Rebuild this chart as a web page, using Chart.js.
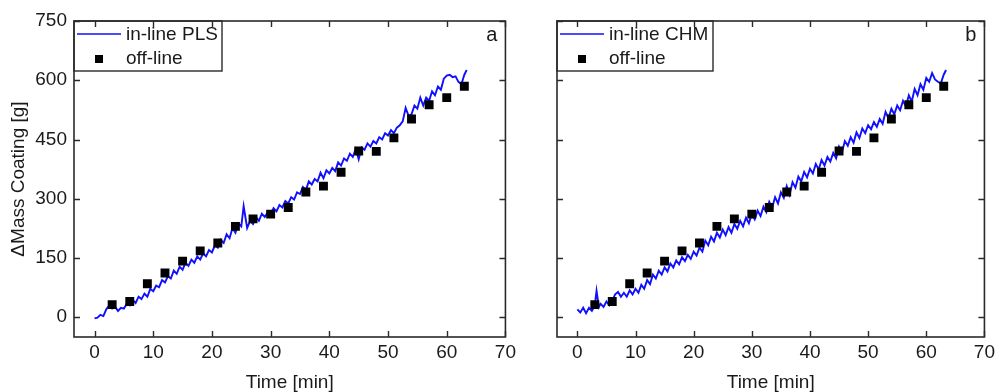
<!DOCTYPE html>
<html>
<head>
<meta charset="utf-8">
<script src="https://cdn.jsdelivr.net/npm/chart.js@4.4.1/dist/chart.umd.min.js"></script>
<style>
  body { margin: 0; background: #fff; }
  .panel { position: absolute; top: 0; }
</style>
</head>
<body>
<div class="panel" style="left:0"><canvas id="chartA" width="520" height="392"></canvas></div>
<div class="panel" style="left:520px"><canvas id="chartB" width="479" height="392"></canvas></div>
<script>
// off-line reference values (same for both panels)
const offTime = [3, 6, 9, 12, 15, 18, 21, 24, 27, 30, 33, 36, 39, 42, 45, 48, 51, 54, 57, 60, 63];
const offMass = [32, 40, 85, 112, 142, 168, 188, 230, 249, 261, 278, 317, 332, 367, 421, 420, 454, 502, 538, 556, 585];

// in-line PLS prediction (panel a)
const plsTime = [0, 0.5, 1, 1.5, 2, 2.5, 3, 3.5, 4, 4.5, 5, 5.5, 6, 6.5, 7, 7.5, 8, 8.5, 9, 9.5,
  10, 10.5, 11, 11.5, 12, 12.5, 13, 13.5, 14, 14.5, 15, 15.5, 16, 16.5, 17, 17.5, 18, 18.5, 19, 19.5,
  20, 20.5, 21, 21.5, 22, 22.5, 23, 23.5, 24, 24.5, 25, 25.4, 26, 26.5, 27, 27.5, 28, 28.5, 29, 29.5,
  30, 30.5, 31, 31.5, 32, 32.5, 33, 33.5, 34, 34.5, 35, 35.5, 36, 36.5, 37, 37.5, 38, 38.5, 39, 39.5,
  40, 40.5, 41, 41.5, 42, 42.5, 43, 43.5, 44, 44.5, 45, 45.5, 46, 46.5, 47, 47.5, 48, 48.5, 49, 49.5,
  50, 50.5, 51, 51.5, 52, 52.5, 53, 53.5, 54, 54.5, 55, 55.5, 56, 56.5, 57, 57.5, 58, 58.5, 59, 59.5,
  60, 60.5, 61, 61.5, 62, 62.5, 63, 63.4];
const plsMass = [-3, -1, 6, 3, 20, 30, 22, 26, 16, 24, 22, 34, 30, 44, 36, 52, 46, 60, 52, 72,
  66, 80, 76, 94, 88, 104, 98, 118, 110, 128, 120, 138, 130, 146, 138, 154, 146, 162, 154, 170,
  164, 182, 176, 196, 188, 210, 200, 226, 214, 238, 230, 281, 226, 244, 236, 254, 244, 262, 254, 266,
  262, 276, 268, 284, 278, 294, 288, 304, 298, 316, 312, 330, 322, 344, 336, 350, 344, 366, 352, 372,
  364, 378, 370, 392, 384, 402, 396, 414, 406, 426, 400, 430, 424, 440, 432, 446, 440, 456, 450, 466,
  460, 474, 466, 480, 486, 496, 530, 510, 514, 536, 528, 556, 536, 556, 548, 572, 562, 584, 576, 604,
  612, 614, 608, 610, 596, 590, 614, 626];

// in-line CHM prediction (panel b)
const chmTime = [0, 0.5, 1, 1.5, 2, 2.5, 3, 3.3, 3.7, 4, 4.5, 5, 5.5, 6, 6.5, 7, 7.5, 8, 8.5, 9, 9.5,
  10, 10.5, 11, 11.5, 12, 12.5, 13, 13.5, 14, 14.5, 15, 15.5, 16, 16.5, 17, 17.5, 18, 18.5, 19, 19.5,
  20, 20.5, 21, 21.5, 22, 22.5, 23, 23.5, 24, 24.5, 25, 25.5, 26, 26.5, 27, 27.5, 28, 28.5, 29, 29.5,
  30, 30.5, 31, 31.5, 32, 32.5, 33, 33.5, 34, 34.5, 35, 35.5, 36, 36.5, 37, 37.5, 38, 38.5, 39, 39.5,
  40, 40.5, 41, 41.5, 42, 42.5, 43, 43.5, 44, 44.5, 45, 45.5, 46, 46.5, 47, 47.5, 48, 48.5, 49, 49.5,
  50, 50.5, 51, 51.5, 52, 52.5, 53, 53.5, 54, 54.5, 55, 55.5, 56, 56.5, 57, 57.5, 58, 58.5, 59, 59.5,
  60, 60.5, 61, 61.5, 62, 62.5, 63, 63.4];
const chmMass = [20, 12, 24, 10, 24, 16, 30, 67, 26, 34, 26, 40, 30, 42, 58, 64, 52, 62, 52, 68, 58,
  72, 62, 82, 72, 94, 84, 108, 98, 118, 108, 126, 116, 136, 126, 144, 134, 152, 142, 158, 148,
  166, 156, 176, 166, 194, 182, 204, 192, 214, 202, 222, 208, 228, 214, 236, 224, 244, 230, 252, 238,
  262, 248, 270, 256, 280, 266, 292, 278, 304, 288, 316, 302, 332, 310, 342, 328, 356, 344, 368, 354,
  376, 364, 388, 374, 398, 384, 406, 394, 416, 402, 432, 418, 446, 434, 456, 442, 468, 454, 478, 466,
  486, 476, 494, 482, 502, 490, 520, 504, 528, 514, 536, 524, 548, 534, 562, 546, 578, 562, 590, 576,
  606, 596, 618, 602, 596, 592, 614, 626];

const xTicks = [0, 10, 20, 30, 40, 50, 60, 70];
const yTicks = [0, 150, 300, 450, 600, 750];

const FONT = "'Liberation Sans', Arial, sans-serif";
const FSIZE = 19;
const INK = '#1a1a1a';
const BLUE = '#1010ff';

function toPoints(xs, ys) {
  return xs.map((x, i) => ({ x: x, y: ys[i] }));
}

// frame, inward ticks on all four sides, legend box and panel letter
const framePlugin = {
  id: 'frame',
  afterDraw(chart, args, opts) {
    const { ctx, chartArea: a, scales } = chart;
    const x = scales.x, y = scales.y;
    ctx.save();
    ctx.strokeStyle = '#2a2a2a';
    ctx.lineWidth = 1.6;
    ctx.strokeRect(a.left, a.top, a.right - a.left, a.bottom - a.top);
    ctx.lineWidth = 1.4;
    ctx.beginPath();
    xTicks.forEach(v => {
      const px = Math.round(x.getPixelForValue(v)) + 0.5;
      ctx.moveTo(px, a.bottom); ctx.lineTo(px, a.bottom - 6);
      ctx.moveTo(px, a.top); ctx.lineTo(px, a.top + 6);
    });
    yTicks.forEach(v => {
      const py = Math.round(y.getPixelForValue(v)) + 0.5;
      ctx.moveTo(a.left, py); ctx.lineTo(a.left + 6, py);
      ctx.moveTo(a.right, py); ctx.lineTo(a.right - 6, py);
    });
    ctx.stroke();

    // legend
    const L = a.left;
    ctx.lineWidth = 1.4;
    ctx.strokeRect(L, a.top, opts.legendWidth, 50);
    ctx.strokeStyle = BLUE;
    ctx.lineWidth = 1.6;
    ctx.beginPath();
    ctx.moveTo(L + 3, a.top + 13); ctx.lineTo(L + 47, a.top + 13);
    ctx.stroke();
    ctx.fillStyle = '#000';
    ctx.fillRect(L + 21, a.top + 34, 8, 8);
    ctx.fillStyle = INK;
    ctx.font = FSIZE + 'px ' + FONT;
    ctx.textBaseline = 'middle';
    ctx.textAlign = 'left';
    ctx.fillText(opts.lineLabel, L + 52, a.top + 14);
    ctx.fillText('off-line', L + 52, a.top + 38);

    // panel letter
    ctx.textAlign = 'right';
    ctx.font = (FSIZE + 1) + 'px ' + FONT;
    ctx.fillText(opts.letter, a.right - 8, a.top + 14);
    ctx.restore();
  }
};

function makeChart(id, lineTime, lineMass, lineLabel, letter, showY, yWidth, padRight, legendWidth) {
  new Chart(document.getElementById(id), {
    type: 'scatter',
    data: {
      datasets: [{
        label: lineLabel,
        data: toPoints(lineTime, lineMass),
        showLine: true,
        borderColor: BLUE,
        borderWidth: 1.9,
        pointRadius: 0,
        tension: 0,
        order: 2
      }, {
        label: 'off-line',
        data: toPoints(offTime, offMass),
        pointStyle: 'rect',
        pointRadius: 6.3,
        backgroundColor: '#000',
        borderColor: '#000',
        borderWidth: 0,
        order: 1
      }]
    },
    options: {
      responsive: false,
      animation: false,
      devicePixelRatio: 1,
      layout: { padding: { left: 0, right: padRight, top: 21, bottom: 0 } },
      plugins: {
        legend: { display: false },
        tooltip: { enabled: false },
        frame: { lineLabel: lineLabel, letter: letter, legendWidth: legendWidth }
      },
      scales: {
        x: {
          type: 'linear',
          min: -3.5,
          max: 70,
          afterBuildTicks: s => { s.ticks = xTicks.map(v => ({ value: v })); },
          afterFit: s => { s.height = 55; },
          grid: { display: false, drawTicks: false },
          border: { display: false },
          ticks: { color: INK, font: { family: FONT, size: FSIZE }, padding: 4, maxRotation: 0 },
          title: { display: true, text: 'Time [min]', color: INK, font: { family: FONT, size: FSIZE }, padding: { top: 0, bottom: -2 } }
        },
        y: {
          type: 'linear',
          min: -50,
          max: 750,
          afterBuildTicks: s => { s.ticks = yTicks.map(v => ({ value: v })); },
          afterFit: s => { s.width = yWidth; },
          grid: { display: false, drawTicks: false },
          border: { display: false },
          ticks: { display: showY, color: INK, font: { family: FONT, size: FSIZE }, padding: 7 },
          title: { display: showY, text: 'ΔMass Coating [g]', color: INK, font: { family: FONT, size: FSIZE }, padding: { top: 7, bottom: 0 } }
        }
      }
    },
    plugins: [framePlugin]
  });
}

makeChart('chartA', plsTime, plsMass, 'in-line PLS', 'a', true, 74, 13, 148);
makeChart('chartB', chmTime, chmMass, 'in-line CHM', 'b', false, 37, 10, 156);
</script>
</body>
</html>
